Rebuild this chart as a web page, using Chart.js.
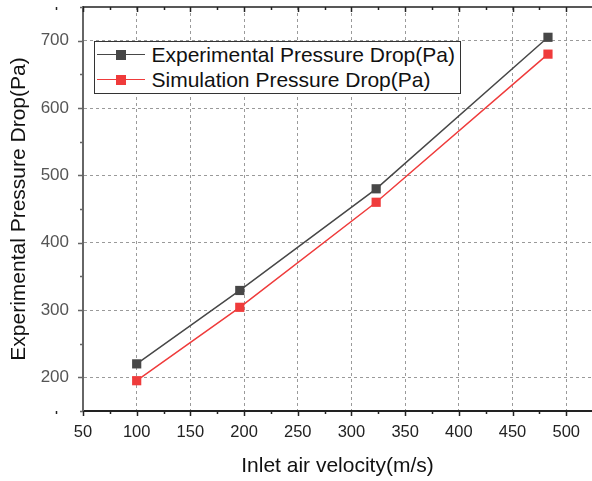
<!DOCTYPE html>
<html>
<head>
<meta charset="utf-8">
<script src="https://cdn.jsdelivr.net/npm/chart.js@4.4.1/dist/chart.umd.min.js"></script>
<style>
	html, body {margin:0; padding:0; background:#fff;}
	#wrap {position:relative; width:592px; height:481px;}
	#legend {position:absolute; left:94px; top:41px; width:365px; height:51px; border:1.5px solid #333; background:#fff;
		font-family:"Liberation Sans", Arial, sans-serif; font-size:21px; color:#111;}
	.row {height:25px; display:flex; align-items:center; white-space:nowrap;}
	.sample {position:relative; width:48px; height:25px; margin-left:1.5px; margin-right:7px; flex:none;}
	.sample .ln {position:absolute; left:0; right:0; top:11.5px; height:1.5px;}
	.sample .mk {position:absolute; left:19px; top:7.5px; width:10px; height:10px;}
</style>
</head>
<body>
<div id="wrap">
	<canvas id="chart" width="592" height="481"></canvas>
	<div id="legend"></div>
</div>
<script>
// values
var velocity = [100, 196, 323, 483];
var experimental = [220, 329, 480, 705];
var simulation = [195, 304, 460, 680];
var seriesNames = ['Experimental Pressure Drop(Pa)', 'Simulation Pressure Drop(Pa)'];
var seriesColors = ['#474747', '#ef3b3b'];
var xTicks = [50, 100, 150, 200, 250, 300, 350, 400, 450, 500];
var yTicks = [200, 300, 400, 500, 600, 700];

var FONT = '"Liberation Sans", Arial, sans-serif';

//build the point list for one series
function toPoints(ys) {
	return velocity.map(function (v, i) { return {x: v, y: ys[i]}; });
}

function series(i, ys) {
	return {
		label: seriesNames[i],
		data: toPoints(ys),
		borderColor: seriesColors[i],
		backgroundColor: seriesColors[i],
		borderWidth: 1.5,
		pointStyle: 'rect',
		pointRadius: 6.5,
		pointBorderWidth: 0,
		tension: 0
	};
}

//minor ticks sit half way between the major ones
function minors(list) {
	var step = list[1] - list[0];
	var out = [list[0] - step / 2];
	for (var i = 0; i < list.length; i++) {
		out.push(list[i] + step / 2);
	}
	return out;
}

//keep the plot box where the picture has it: no extra room for edge labels
function fixBox(s, prop, size) {
	s[prop] = size;
	s.paddingTop = 0; s.paddingBottom = 0; s.paddingLeft = 0; s.paddingRight = 0;
}

//draw Origin style tick marks (outside on bottom/left, inside on top) plus the top frame
var axisMarks = {
	id: 'axisMarks',
	afterDraw: function (chart) {
		var ctx = chart.ctx, a = chart.chartArea;
		var sx = chart.scales.x, sy = chart.scales.y;
		ctx.save();
		ctx.lineWidth = 1.5;
		ctx.strokeStyle = '#222';
		ctx.beginPath();
		ctx.moveTo(a.left, a.top); ctx.lineTo(a.right, a.top);
		xTicks.forEach(function (v) {
			var px = Math.round(sx.getPixelForValue(v)) + 0.5;
			ctx.moveTo(px, a.bottom); ctx.lineTo(px, a.bottom + 5);
			ctx.moveTo(px, a.top); ctx.lineTo(px, a.top + 5);
		});
		minors(xTicks).forEach(function (v) {
			var px = Math.round(sx.getPixelForValue(v)) + 0.5;
			ctx.moveTo(px, a.bottom); ctx.lineTo(px, a.bottom + 3);
			ctx.moveTo(px, a.top); ctx.lineTo(px, a.top + 3);
		});
		ctx.stroke();
		ctx.strokeStyle = '#666';
		ctx.beginPath();
		yTicks.forEach(function (v) {
			var py = Math.round(sy.getPixelForValue(v)) + 0.5;
			ctx.moveTo(a.left, py); ctx.lineTo(a.left - 5, py);
		});
		minors(yTicks).forEach(function (v) {
			var py = Math.round(sy.getPixelForValue(v)) + 0.5;
			ctx.moveTo(a.left, py); ctx.lineTo(a.left - 3, py);
		});
		ctx.stroke();
		ctx.restore();
	}
};

var chart = new Chart(document.getElementById('chart'), {
	type: 'line',
	data: {datasets: [series(0, experimental), series(1, simulation)]},
	options: {
		responsive: false,
		animation: false,
		layout: {autoPadding: false, padding: {top: 7, left: 0, right: 0, bottom: 0}},
		plugins: {legend: {display: false}, tooltip: {enabled: false}},
		scales: {
			x: {
				type: 'linear', min: 50, max: 524,
				afterFit: function (s) { fixBox(s, 'height', 70); },
				afterBuildTicks: function (s) { s.ticks = xTicks.map(function (v) { return {value: v}; }); },
				ticks: {color: '#222', font: {family: FONT, size: 16.5}, padding: 12, maxRotation: 0, autoSkip: false},
				grid: {color: '#9a9a9a', lineWidth: 1, drawTicks: false},
				border: {color: '#222', width: 2, dash: [3, 3]},
				title: {display: true, text: 'Inlet air velocity(m/s)', color: '#111', font: {family: FONT, size: 21}, padding: {top: 0, bottom: 2}}
			},
			y: {
				type: 'linear', min: 150, max: 750,
				afterFit: function (s) { fixBox(s, 'width', 83); },
				afterBuildTicks: function (s) { s.ticks = yTicks.map(function (v) { return {value: v}; }); },
				ticks: {color: '#555', font: {family: FONT, size: 17}, padding: 14},
				grid: {color: '#9a9a9a', lineWidth: 1, drawTicks: false},
				border: {color: '#666', width: 2, dash: [3, 3]},
				title: {display: true, text: 'Experimental Pressure Drop(Pa)', color: '#111', font: {family: FONT, size: 21}, padding: {top: 7, bottom: 0}}
			}
		}
	},
	plugins: [axisMarks]
});

//legend box built from the datasets
var legend = document.getElementById('legend');
chart.data.datasets.forEach(function (ds) {
	var row = document.createElement('div');
	row.className = 'row';
	row.innerHTML = '<span class="sample"><span class="ln" style="background:' + ds.borderColor + '"></span>' +
		'<span class="mk" style="background:' + ds.backgroundColor + '"></span></span><span>' + ds.label + '</span>';
	legend.appendChild(row);
});
</script>
</body>
</html>
